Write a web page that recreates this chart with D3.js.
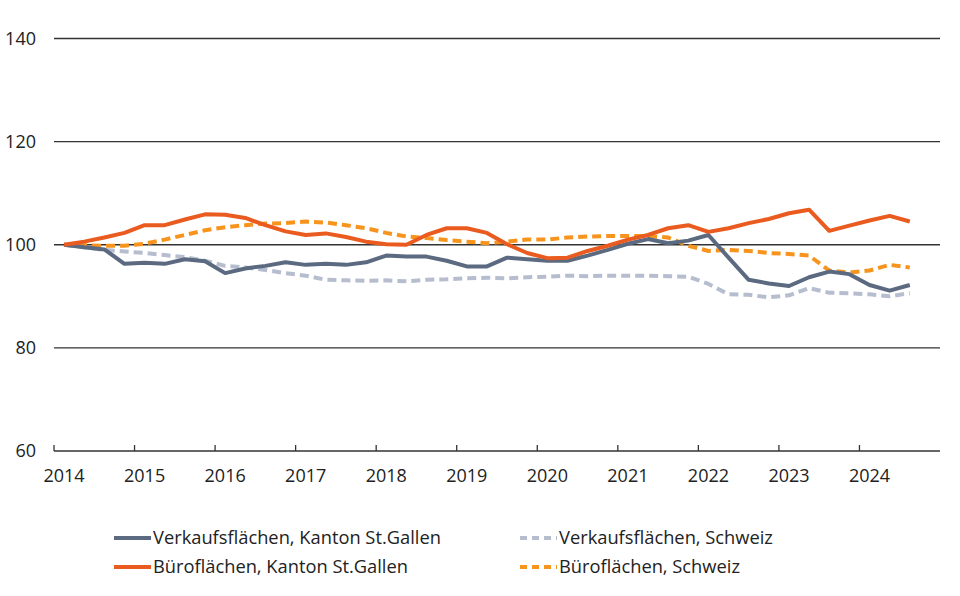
<!DOCTYPE html>
<html>
<head>
<meta charset="utf-8">
<script src="https://cdn.jsdelivr.net/npm/d3@7"></script>
<style>
  body { margin: 0; background: #fff; }
  svg { display: block; font-family: "Open Sans", "Noto Sans", sans-serif; }
  .tick-label { font-size: 18px; fill: #222; }
  .legend-label { font-size: 18.3px; fill: #222; }
</style>
</head>
<body>
<div id="chart"></div>
<script>
// quarters 2014 Q1 .. 2024 Q4 (last quarter has no data yet)
var quarters = [
  "2014Q1","2014Q2","2014Q3","2014Q4","2015Q1","2015Q2","2015Q3","2015Q4",
  "2016Q1","2016Q2","2016Q3","2016Q4","2017Q1","2017Q2","2017Q3","2017Q4",
  "2018Q1","2018Q2","2018Q3","2018Q4","2019Q1","2019Q2","2019Q3","2019Q4",
  "2020Q1","2020Q2","2020Q3","2020Q4","2021Q1","2021Q2","2021Q3","2021Q4",
  "2022Q1","2022Q2","2022Q3","2022Q4","2023Q1","2023Q2","2023Q3","2023Q4",
  "2024Q1","2024Q2","2024Q3","2024Q4"
];
var yearLabels = ["2014","2015","2016","2017","2018","2019","2020","2021","2022","2023","2024"];
var yTicks = [60, 80, 100, 120, 140];

var verkaufSG = [100, 99.5, 99.1, 96.3, 96.5, 96.3, 97.2, 96.8, 94.5, 95.4, 95.9, 96.6, 96.1, 96.3, 96.1, 96.6,
  97.9, 97.7, 97.7, 96.9, 95.8, 95.8, 97.5, 97.2, 96.9, 96.9, 97.9, 99.0, 100.2, 101.1, 100.3, 100.8,
  101.9, 97.5, 93.2, 92.5, 92.0, 93.7, 94.8, 94.3, 92.2, 91.1, 92.2];
var bueroSG = [100, 100.6, 101.4, 102.3, 103.8, 103.8, 104.9, 105.9, 105.8, 105.2, 103.8, 102.6, 101.9, 102.2, 101.5, 100.6,
  100.1, 100.0, 101.9, 103.2, 103.2, 102.3, 100.1, 98.4, 97.4, 97.5, 98.8, 99.8, 101.0, 101.9, 103.2, 103.8,
  102.5, 103.2, 104.2, 105.0, 106.1, 106.8, 102.7, 103.7, 104.7, 105.6, 104.5];
var verkaufCH = [100, 99.5, 99.0, 98.7, 98.4, 98.0, 97.6, 96.9, 95.9, 95.6, 95.1, 94.5, 94.0, 93.2, 93.1, 93.0,
  93.1, 92.9, 93.2, 93.3, 93.5, 93.6, 93.5, 93.7, 93.8, 94.0, 93.9, 94.0, 94.0, 94.0, 93.9, 93.8,
  92.4, 90.4, 90.3, 89.8, 90.2, 91.6, 90.7, 90.6, 90.4, 90.0, 90.6];
var bueroCH = [100, 99.9, 99.8, 99.8, 100.2, 101.0, 101.9, 102.8, 103.4, 103.8, 104.1, 104.2, 104.5, 104.3, 103.8, 103.2,
  102.3, 101.6, 101.3, 100.9, 100.6, 100.3, 100.6, 101.0, 101.0, 101.4, 101.6, 101.7, 101.7, 101.7, 101.4, 99.8,
  98.8, 99.0, 98.8, 98.4, 98.2, 97.9, 95.0, 94.6, 95.0, 96.1, 95.6];

var series = [
  {name: "Verkaufsflächen, Schweiz", values: verkaufCH, color: "#b5bdcf", dash: "9,5"},
  {name: "Büroflächen, Schweiz", values: bueroCH, color: "#f7941d", dash: "9,5"},
  {name: "Verkaufsflächen, Kanton St.Gallen", values: verkaufSG, color: "#5b6a80", dash: null},
  {name: "Büroflächen, Kanton St.Gallen", values: bueroSG, color: "#ea5b1f", dash: null}
];

var width = 960, height = 596;
var margin = {top: 38.5, right: 20, bottom: 145, left: 54};

var svg = d3.select("#chart").append("svg")
    .attr("width", width)
    .attr("height", height);

var x = d3.scaleBand()
    .domain(quarters)
    .range([margin.left, width - margin.right])
    .padding(0);

var y = d3.scaleLinear()
    .domain([60, 140])
    .range([height - margin.bottom, margin.top]);

var cx = function(q){ return x(q) + x.bandwidth() / 2; };

// horizontal grid lines
svg.append("g")
    .selectAll("line")
    .data(yTicks.slice(1))
    .enter().append("line")
    .attr("x1", margin.left)
    .attr("x2", width - margin.right)
    .attr("y1", function(d){ return y(d); })
    .attr("y2", function(d){ return y(d); })
    .attr("stroke", "#333")
    .attr("stroke-width", 1.3);

// y labels
svg.append("g")
    .selectAll("text")
    .data(yTicks)
    .enter().append("text")
    .attr("class", "tick-label")
    .attr("x", 36)
    .attr("y", function(d){ return y(d); })
    .attr("dy", "0.35em")
    .attr("text-anchor", "end")
    .text(function(d){ return d; });

// x axis: line, year ticks, labels centred on Q1
var xAxis = svg.append("g");
xAxis.append("line")
    .attr("x1", margin.left)
    .attr("x2", width - margin.right)
    .attr("y1", y(60))
    .attr("y2", y(60))
    .attr("stroke", "#333")
    .attr("stroke-width", 1.3);

xAxis.selectAll(".yr-tick")
    .data(yearLabels)
    .enter().append("line")
    .attr("class", "yr-tick")
    .attr("x1", function(d){ return x(d + "Q1"); })
    .attr("x2", function(d){ return x(d + "Q1"); })
    .attr("y1", y(60))
    .attr("y2", y(60) - 6)
    .attr("stroke", "#333")
    .attr("stroke-width", 1.3);

xAxis.selectAll(".yr-label")
    .data(yearLabels)
    .enter().append("text")
    .attr("class", "tick-label")
    .attr("x", function(d){ return cx(d + "Q1"); })
    .attr("y", y(60) + 25)
    .attr("dy", "0.35em")
    .attr("text-anchor", "middle")
    .text(function(d){ return d; });

// lines
var line = d3.line()
    .x(function(d, i){ return cx(quarters[i]); })
    .y(function(d){ return y(d); });

svg.append("g")
    .selectAll("path")
    .data(series)
    .enter().append("path")
    .attr("d", function(d){ return line(d.values); })
    .attr("fill", "none")
    .attr("stroke", function(d){ return d.color; })
    .attr("stroke-width", 4)
    .attr("stroke-linejoin", "round")
    .attr("stroke-dasharray", function(d){ return d.dash; });

// legend
var legendItems = [
  {s: series[2], x: 114, y: 538},
  {s: series[3], x: 114, y: 567},
  {s: series[0], x: 520, y: 538},
  {s: series[1], x: 520, y: 567}
];

var leg = svg.append("g")
    .selectAll("g")
    .data(legendItems)
    .enter().append("g")
    .attr("transform", function(d){ return "translate(" + d.x + "," + d.y + ")"; });

leg.append("line")
    .attr("x1", 0)
    .attr("x2", 37)
    .attr("stroke", function(d){ return d.s.color; })
    .attr("stroke-width", 4)
    .attr("stroke-dasharray", function(d){ return d.s.dash ? "7,5" : null; });

leg.append("text")
    .attr("class", "legend-label")
    .attr("x", 39)
    .attr("dy", "0.35em")
    .text(function(d){ return d.s.name; });
</script>
</body>
</html>
